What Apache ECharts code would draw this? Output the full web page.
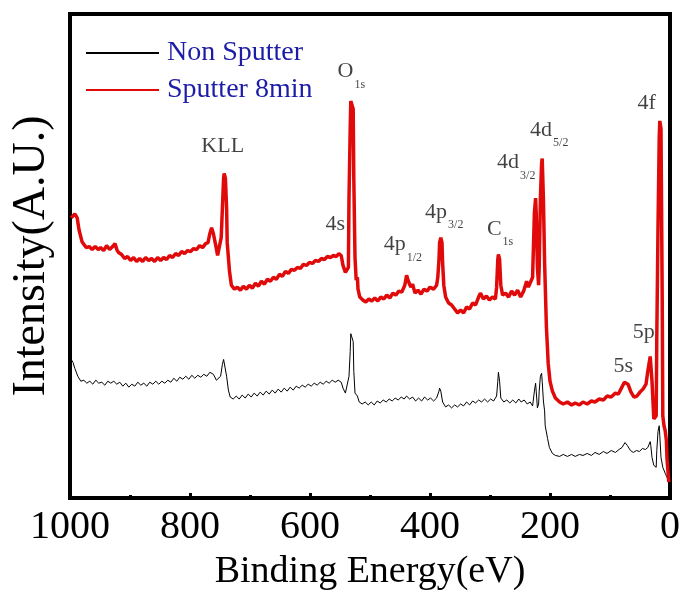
<!DOCTYPE html>
<html><head><meta charset="utf-8">
<script src="https://cdn.jsdelivr.net/npm/echarts@6/dist/echarts.min.js"></script>
<style>html,body{margin:0;padding:0;background:#fff}#c{width:683px;height:596px}</style>
</head><body><div id="c"></div>
<script>
const seriesNames = ['Non Sputter', 'Sputter 8min'];
const xTickValues = [0, 200, 400, 600, 800, 1000];
// Binding energy (eV), intensity (arb. units)
const nonSputter = [[998,140],[995,137],[992,131],[987,123],[982,118],[977,119],[972,116],[967,118],[962,115],[957,119],[952,116],[947,117],[942,114],[937,118],[932,116],[927,118],[922,115],[917,117],[912,113],[907,116],[902,112],[897,115],[892,113],[887,117],[882,114],[877,116],[872,113],[867,117],[862,115],[857,118],[852,115],[847,118],[842,116],[837,119],[832,117],[827,121],[822,118],[817,122],[812,120],[807,123],[802,120],[797,124],[792,121],[787,124],[782,122],[777,125],[772,123],[767,127],[764,129],[761,125],[756,119],[753,117],[749,123],[746,135],[744,140],[743,138],[739,123],[736,109],[733,102],[728,100],[723,103],[718,100],[713,104],[708,101],[703,105],[698,102],[693,106],[688,103],[683,107],[678,104],[673,108],[668,105],[663,109],[658,106],[653,110],[648,107],[643,111],[638,108],[633,112],[628,109],[623,113],[618,111],[613,114],[608,112],[603,115],[598,113],[593,116],[588,114],[583,117],[578,115],[573,118],[568,116],[563,119],[558,117],[553,119],[548,117],[545,111],[541,106],[538,105],[535,123],[533,148],[532,166],[530,168],[528,158],[527,128],[525,106],[521,103],[518,97],[513,95],[508,97],[503,94],[498,97],[493,94],[488,98],[483,96],[478,99],[473,97],[468,100],[463,98],[458,101],[453,99],[448,102],[443,100],[439,103],[434,100],[429,102],[424,98],[419,101],[414,98],[409,102],[404,99],[399,101],[394,98],[389,101],[385,108],[384,111],[382,108],[379,97],[374,92],[369,94],[364,91],[359,94],[354,92],[349,95],[344,93],[339,97],[334,94],[329,98],[324,96],[319,99],[314,97],[309,100],[304,97],[299,100],[294,98],[289,103],[287,118],[286,127],[284,118],[282,101],[277,97],[272,99],[267,96],[262,99],[257,96],[252,100],[248,97],[243,99],[238,95],[233,97],[229,93],[226,108],[224,116],[223,108],[221,91],[219,95],[218,108],[216,123],[214,126],[213,118],[211,98],[209,88],[208,73],[204,60],[201,51],[196,45],[191,43],[184,42],[178,44],[171,42],[164,44],[158,42],[151,44],[145,43],[138,45],[131,43],[125,46],[118,44],[111,47],[105,45],[98,48],[91,46],[85,49],[80,51],[75,56],[71,53],[66,48],[61,46],[56,48],[51,47],[46,50],[41,49],[37,51],[33,57],[32,53],[30,41],[27,33],[23,31],[22,48],[20,67],[18,73],[17,63],[15,41],[12,31],[8,25],[5,21],[2,16]];
const sputter8min = [[998,283],[992,287],[988,283],[985,271],[980,259],[973,253],[968,254],[963,251],[958,254],[953,251],[949,253],[944,250],[939,255],[934,251],[929,254],[925,257],[922,251],[919,248],[914,246],[909,242],[904,244],[899,240],[894,243],[889,239],[884,242],[879,239],[874,243],[869,240],[864,242],[859,239],[854,243],[849,240],[844,243],[839,241],[834,245],[829,243],[824,247],[819,245],[814,249],[809,247],[804,250],[799,249],[794,252],[789,251],[784,255],[779,253],[774,257],[770,258],[767,267],[764,273],[761,267],[757,255],[754,245],[751,244],[748,263],[746,293],[744,323],[743,328],[741,323],[739,293],[738,258],[734,228],[731,215],[726,211],[721,213],[716,210],[711,214],[706,211],[701,215],[696,212],[691,217],[686,214],[681,219],[676,216],[671,221],[666,219],[661,223],[656,221],[651,226],[646,224],[641,229],[636,227],[631,231],[626,230],[621,233],[616,232],[611,236],[606,235],[601,238],[596,237],[591,240],[586,239],[581,242],[576,241],[571,244],[566,243],[561,245],[556,244],[552,247],[548,245],[545,235],[541,228],[538,226],[536,233],[535,303],[533,373],[532,401],[530,403],[528,393],[527,323],[525,243],[523,220],[521,223],[520,211],[517,203],[512,200],[507,198],[502,201],[497,199],[492,202],[487,199],[482,203],[477,201],[472,205],[467,202],[462,207],[457,205],[452,209],[447,208],[442,215],[439,225],[436,219],[432,213],[429,216],[425,207],[420,210],[415,206],[410,211],[405,209],[400,213],[394,211],[389,215],[387,223],[385,241],[384,258],[382,263],[380,258],[379,238],[377,215],[374,203],[369,197],[364,195],[359,191],[354,187],[349,190],[344,187],[339,193],[334,191],[329,197],[324,195],[319,203],[316,207],[311,201],[306,204],[301,200],[296,203],[291,201],[289,213],[287,241],[286,246],[284,241],[282,215],[279,205],[274,207],[269,203],[264,209],[259,205],[254,210],[249,203],[244,209],[239,219],[236,213],[233,211],[229,223],[226,288],[224,303],[223,288],[221,233],[219,215],[218,233],[216,303],[214,338],[213,343],[211,303],[209,238],[206,173],[203,136],[200,118],[196,108],[191,101],[184,97],[178,95],[171,97],[164,94],[158,96],[151,94],[145,97],[138,95],[131,98],[125,97],[118,100],[111,99],[105,103],[98,102],[91,106],[86,105],[81,111],[76,117],[73,118],[70,115],[65,107],[60,102],[55,103],[50,107],[45,110],[40,115],[37,128],[33,143],[32,141],[30,118],[28,93],[27,80],[25,78],[23,83],[22,163],[20,273],[18,363],[17,381],[15,373],[13,203],[12,83],[10,73],[8,68],[6,58],[5,40],[3,24],[2,16]];
// Peak annotations: main text, subscript, anchor energy, anchor intensity
const annoMain = ['KLL', 'O', '4s', '4p', '4p', 'C', '4d', '4d', '4f', '5p', '5s'];
const annoSub  = ['', '1s', '', '1/2', '3/2', '1s', '3/2', '5/2', '', '', ''];
const annoE    = [782, 555, 575, 478, 409, 306, 289, 234, 55, 63, 95];
const annoV    = [355, 431, 277, 256, 289, 272, 339, 372, 399, 167, 133];

const SERIF = '"Liberation Serif","Times New Roman",serif';
const chart = echarts.init(document.getElementById('c'));
const annoData = annoMain.map((m, i) => ({ value: [annoE[i], annoV[i]], main: m, sub: annoSub[i] }));

chart.setOption({
  backgroundColor: '#fff',
  animation: false,
  grid: { left: 70, right: 11, top: 14, bottom: 93, show: true, borderColor: '#000', borderWidth: 4, backgroundColor: 'transparent' },
  legend: {
    orient: 'vertical', left: 85, top: 38, padding: 0, itemWidth: 73, itemHeight: 14, itemGap: 7,
    data: seriesNames,
    itemStyle: { color: 'rgba(0,0,0,0)', borderWidth: 0, opacity: 0 },
    textStyle: { fontFamily: SERIF, fontSize: 28, color: '#1c1ca6', lineHeight: 30, padding: [0, 0, 0, 3] }
  },
  xAxis: {
    type: 'value', inverse: true, min: 0, max: 1000, interval: 200,
    axisLine: { show: false },
    axisTick: { show: true, inside: true, length: 5, lineStyle: { color: '#000', width: 3 } },
    minorTick: { show: true, splitNumber: 2, length: 3, lineStyle: { color: '#000', width: 3 } },
    splitLine: { show: false },
    axisLabel: { fontFamily: SERIF, fontSize: 40, color: '#000', margin: 9,
      formatter: v => xTickValues.includes(v) ? String(v) : '' },
    name: 'Binding Energy(eV)', nameLocation: 'middle', nameGap: 55,
    nameTextStyle: { fontFamily: SERIF, fontSize: 38, color: '#000' }
  },
  yAxis: {
    type: 'value', min: 0, max: 489,
    axisLine: { show: false }, axisTick: { show: false }, axisLabel: { show: false }, splitLine: { show: false },
    name: 'Intensity(A.U.)', nameLocation: 'middle', nameGap: 15,
    nameTextStyle: { fontFamily: SERIF, fontSize: 46, color: '#000' }
  },
  series: [
    { name: seriesNames[0], type: 'line', data: nonSputter, symbol: 'none', color: '#000',
      lineStyle: { color: '#000', width: 1 }, z: 2 },
    { name: seriesNames[1], type: 'line', data: sputter8min, symbol: 'none', color: '#e00a0a',
      lineStyle: { color: '#e00a0a', width: 3.5 }, z: 3 },
    { name: 'labels', type: 'scatter', data: annoData, symbolSize: 1, silent: true, z: 5,
      itemStyle: { color: 'rgba(0,0,0,0)' },
      label: {
        show: true, position: 'right', distance: 0,
        formatter: p => '{m|' + p.data.main + '}' + (p.data.sub ? '{s|' + p.data.sub + '}' : ''),
        rich: {
          m: { fontFamily: SERIF, fontSize: 22, color: '#111', lineHeight: 26 },
          s: { fontFamily: SERIF, fontSize: 12, color: '#111', lineHeight: 12, padding: [26, 0, 0, 1] }
        }
      }
    }
  ]
});
</script>
</body></html>
